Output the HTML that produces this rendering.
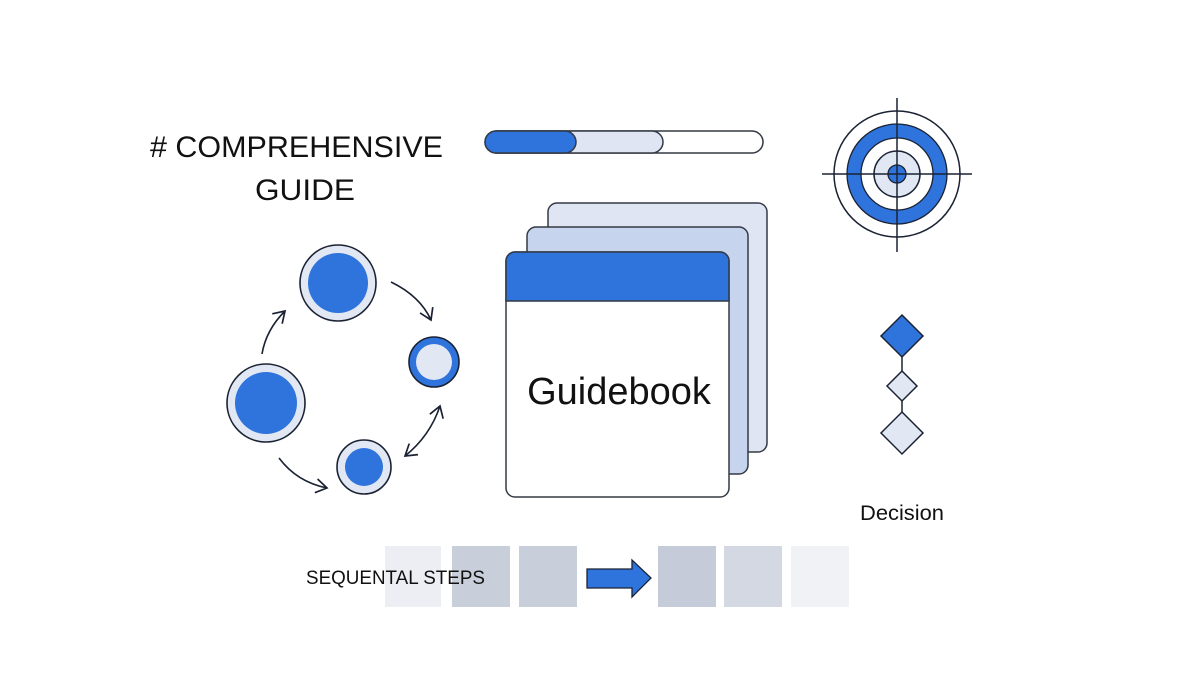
<!DOCTYPE html>
<html><head><meta charset="utf-8"><style>
html,body{margin:0;padding:0;background:#fff;}
svg{display:block;}
text{font-family:"Liberation Sans",sans-serif;fill:#111;}
</style></head><body>
<svg width="1200" height="675" viewBox="0 0 1200 675" xmlns="http://www.w3.org/2000/svg">
<defs>
<marker id="ah" markerWidth="16" markerHeight="16" refX="12" refY="8" orient="auto" markerUnits="userSpaceOnUse">
<path d="M1,1 L12,8 L1,15" fill="none" stroke="#1a2233" stroke-width="1.7"/>
</marker>
<marker id="ahs" markerWidth="16" markerHeight="16" refX="4" refY="8" orient="auto" markerUnits="userSpaceOnUse">
<path d="M15,1 L4,8 L15,15" fill="none" stroke="#1a2233" stroke-width="1.7"/>
</marker>
</defs>
<rect width="1200" height="675" fill="#fff"/>
<text x="150" y="157" font-size="30" textLength="293" lengthAdjust="spacingAndGlyphs">#&#160;COMPREHENSIVE</text>
<text x="255" y="200" font-size="30" textLength="100" lengthAdjust="spacingAndGlyphs">GUIDE</text>

<!-- progress bar -->
<rect x="485" y="131" width="278" height="22" rx="11" fill="#fff" stroke="#333a44" stroke-width="1.5"/>
<path d="M496,131 H652 A11,11 0 0 1 652,153 H496 Z" fill="#dfe5f3" stroke="#333a44" stroke-width="1.5"/>
<path d="M496,131 H565 A11,11 0 0 1 565,153 H496 A11,11 0 0 1 496,131 Z" fill="#2f73dc" stroke="#333a44" stroke-width="1.5"/>

<!-- cycle circles -->
<circle cx="338" cy="283" r="38" fill="#e2e7f4" stroke="#1a2233" stroke-width="1.6"/>
<circle cx="338" cy="283" r="30" fill="#2f73dc"/>
<circle cx="266" cy="403" r="39" fill="#e2e7f4" stroke="#1a2233" stroke-width="1.6"/>
<circle cx="266" cy="403" r="31" fill="#2f73dc"/>
<circle cx="434" cy="362" r="25" fill="#2f73dc" stroke="#1a2233" stroke-width="1.6"/>
<circle cx="434" cy="362" r="18" fill="#e2e7f4"/>
<circle cx="364" cy="467" r="27" fill="#e2e7f4" stroke="#1a2233" stroke-width="1.6"/>
<circle cx="364" cy="467" r="19" fill="#2f73dc"/>
<path d="M262,354 Q266,330 285,311" fill="none" stroke="#1a2233" stroke-width="1.6" marker-end="url(#ah)"/>
<path d="M391,282 Q420,296 431,320" fill="none" stroke="#1a2233" stroke-width="1.6" marker-end="url(#ah)"/>
<path d="M279,458 Q297,482 327,488" fill="none" stroke="#1a2233" stroke-width="1.6" marker-end="url(#ah)"/>
<path d="M405,456 Q430,436 440,406" fill="none" stroke="#1a2233" stroke-width="1.6" marker-start="url(#ahs)" marker-end="url(#ah)"/>

<!-- book stack -->
<rect x="548" y="203" width="219" height="249" rx="9" fill="#dfe5f3" stroke="#333a44" stroke-width="1.5"/>
<rect x="527" y="227" width="221" height="247" rx="9" fill="#c7d4ee" stroke="#333a44" stroke-width="1.5"/>
<rect x="506" y="252" width="223" height="245" rx="9" fill="#fff" stroke="#333a44" stroke-width="1.5"/>
<path d="M515,252 H720 A9,9 0 0 1 729,261 V301 H506 V261 A9,9 0 0 1 515,252 Z" fill="#2f73dc" stroke="#333a44" stroke-width="1.5"/>
<text x="619" y="404" font-size="38" text-anchor="middle">Guidebook</text>

<!-- target -->
<circle cx="897" cy="174" r="63" fill="#fff" stroke="#1a2233" stroke-width="1.5"/>
<circle cx="897" cy="174" r="43" fill="none" stroke="#2f73dc" stroke-width="14"/>
<circle cx="897" cy="174" r="50" fill="none" stroke="#1a2233" stroke-width="1.3"/>
<circle cx="897" cy="174" r="36" fill="none" stroke="#1a2233" stroke-width="1.3"/>
<circle cx="897" cy="174" r="23" fill="#e2e7f4" stroke="#1a2233" stroke-width="1.5"/>
<circle cx="897" cy="174" r="9" fill="#2f73dc" stroke="#1a2233" stroke-width="1.3"/>
<line x1="822" y1="174" x2="972" y2="174" stroke="#1a2233" stroke-width="1.5"/>
<line x1="897" y1="98" x2="897" y2="252" stroke="#1a2233" stroke-width="1.5"/>

<!-- diamonds -->
<line x1="902" y1="356" x2="902" y2="415" stroke="#1a2233" stroke-width="1.5"/>
<path d="M902,315 L923,336 L902,357 L881,336 Z" fill="#2f73dc" stroke="#1a2233" stroke-width="1.5"/>
<path d="M902,371 L917,386 L902,401 L887,386 Z" fill="#e2e7f4" stroke="#1a2233" stroke-width="1.5"/>
<path d="M902,412 L923,433 L902,454 L881,433 Z" fill="#e2e7f4" stroke="#1a2233" stroke-width="1.5"/>
<text x="860" y="520" font-size="21" textLength="84" lengthAdjust="spacingAndGlyphs">Decision</text>

<!-- steps -->
<rect x="385" y="546" width="56" height="61" fill="#eceef4"/>
<rect x="452" y="546" width="58" height="61" fill="#c8ceda"/>
<rect x="519" y="546" width="58" height="61" fill="#c8ceda"/>
<rect x="658" y="546" width="58" height="61" fill="#c5cbd8"/>
<rect x="724" y="546" width="58" height="61" fill="#d3d8e3"/>
<rect x="791" y="546" width="58" height="61" fill="#f0f2f6"/>
<path d="M587,569 H632 V560 L651,578 L632,597 V588 H587 Z" fill="#2f73dc" stroke="#1a2233" stroke-width="1.3"/>
<text x="306" y="584" font-size="19" textLength="179" lengthAdjust="spacingAndGlyphs">SEQUENTAL STEPS</text>
</svg>
</body></html>
